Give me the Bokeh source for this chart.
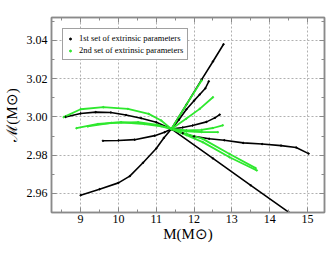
from bokeh.plotting import figure
from bokeh.models import (LinearAxis, Legend, LegendItem, SingleIntervalTicker,
                          Range1d, NumeralTickFormatter, CustomJSTickFormatter)
from bokeh.embed import file_html
from bokeh.resources import INLINE

# ---- data ----
# black: 1st set of extrinsic parameters
b1_x = [9.0, 9.5, 10.0, 10.3, 10.65, 11.0, 11.2, 11.4, 11.8, 12.2, 12.5, 12.78]
b1_y = [2.9590, 2.9622, 2.9655, 2.9690, 2.9760, 2.9835, 2.9890, 2.9937, 3.0065, 3.0195, 3.0290, 3.0380]
b2_x = [8.6, 9.0, 9.4, 9.8, 10.2, 10.6, 11.0, 11.4, 12.5, 13.5, 14.5]
b2_y = [3.0000, 3.0018, 3.0025, 3.0023, 3.0010, 2.9993, 2.9972, 2.9937, 2.9783, 2.9642, 2.9502]
b3_x = [9.59, 10.0, 10.43, 10.96, 11.22, 11.4, 11.7, 12.0, 12.4, 12.8, 13.3, 13.8, 14.3, 14.7, 15.03]
b3_y = [2.9875, 2.9877, 2.9881, 2.9902, 2.9920, 2.9937, 2.9915, 2.9898, 2.9886, 2.9878, 2.9864, 2.9858, 2.9850, 2.9840, 2.9808]
b4_x = [11.4, 11.6, 11.8, 12.0, 12.15, 12.3, 12.39]
b4_y = [2.9937, 2.9985, 3.0040, 3.0085, 3.0117, 3.0150, 3.0186]
b5_x = [11.4, 11.7, 11.96, 12.33, 12.55, 12.68]
b5_y = [2.9937, 2.9945, 2.9955, 2.9974, 2.9995, 3.0012]

# green: 2nd set of extrinsic parameters
g1_x = [8.55, 9.0, 9.6, 10.25, 10.8, 11.13, 11.4]
g1_y = [2.9999, 3.0040, 3.0051, 3.0042, 3.0016, 2.9981, 2.9937]
g2_x = [8.89, 9.46, 10.07, 10.69, 11.13, 11.4]
g2_y = [2.9941, 2.9963, 2.9972, 2.9963, 2.9951, 2.9937]
g3_x = [9.19, 9.81, 10.52, 11.04, 11.4]
g3_y = [2.9950, 2.9969, 2.9972, 2.9958, 2.9937]
r1_x = [11.4, 11.8, 12.2]
r1_y = [2.9937, 3.0065, 3.0190]
r2_x = [11.4, 11.79, 12.15, 12.5]
r2_y = [2.9937, 2.9990, 3.0042, 3.0103]
r3_x = [11.4, 11.8, 12.2, 12.5, 12.76]
r3_y = [2.9937, 2.9930, 2.9932, 2.9942, 2.9956]
r4_x = [11.4, 11.8, 12.2, 12.63]
r4_y = [2.9937, 2.9925, 2.9921, 2.9920]
r5_x = [11.4, 11.8, 12.23, 12.94, 13.66]
r5_y = [2.9937, 2.9905, 2.9868, 2.9789, 2.9720]
r6_x = [11.4, 11.8, 12.23, 12.94, 13.63]
r6_y = [2.9937, 2.9912, 2.9885, 2.9806, 2.9732]

black_xs = [b1_x, b2_x, b3_x, b4_x, b5_x]
black_ys = [b1_y, b2_y, b3_y, b4_y, b5_y]
green_xs = [g1_x, g2_x, g3_x, r1_x, r2_x, r3_x, r4_x, r5_x, r6_x]
green_ys = [g1_y, g2_y, g3_y, r1_y, r2_y, r3_y, r4_y, r5_y, r6_y]

legend_labels = ["1st set of extrinsic parameters", "2nd set of extrinsic parameters"]

BLACK = "#000000"
GREEN = "#2ee82e"
FRAME = "#8a8a8a"
SERIF = "Liberation Serif"

p = figure(frame_width=273, frame_height=195,
           x_range=Range1d(8.23, 15.45), y_range=Range1d(2.950, 3.052),
           output_backend="svg", toolbar_location=None,
           min_border_left=51, min_border_right=2,
           min_border_top=17, min_border_bottom=0)

p.background_fill_color = "white"
p.border_fill_color = "white"
p.outline_line_color = FRAME
p.outline_line_width = 1.5

p.xaxis.ticker = SingleIntervalTicker(interval=1, num_minor_ticks=2)
p.yaxis.ticker = SingleIntervalTicker(interval=0.02, num_minor_ticks=2)
p.yaxis.formatter = NumeralTickFormatter(format="0.00")

for ax in (p.xaxis[0], p.yaxis[0]):
    ax.axis_line_color = FRAME
    ax.axis_line_width = 1.5
    ax.major_tick_line_color = FRAME
    ax.minor_tick_line_color = FRAME
    ax.major_tick_in = 5
    ax.major_tick_out = 0
    ax.minor_tick_in = 3
    ax.minor_tick_out = 0
    ax.major_label_text_font = SERIF
    ax.major_label_text_font_size = "12px"
    ax.major_label_text_color = "black"
    ax.major_label_standoff = 2
    ax.axis_label_text_font = SERIF
    ax.axis_label_text_font_size = "15px"
    ax.axis_label_text_font_style = "normal"
    ax.axis_label_text_color = "black"
    ax.axis_label_standoff = 0

p.yaxis.major_label_standoff = 4
p.yaxis.axis_label_standoff = 4

p.xaxis.axis_label = "M(M\u2299)"
p.yaxis.axis_label = "\u2133(M\u2299)"

# mirrored ticks on top and right (no labels)
for loc, tick in (("above", SingleIntervalTicker(interval=1, num_minor_ticks=2)),
                  ("right", SingleIntervalTicker(interval=0.02, num_minor_ticks=2))):
    ax = LinearAxis(ticker=tick, formatter=CustomJSTickFormatter(code="return ''"))
    ax.axis_line_color = FRAME
    ax.axis_line_width = 1.5
    ax.major_tick_line_color = FRAME
    ax.minor_tick_line_color = FRAME
    ax.major_tick_in = 5
    ax.major_tick_out = 0
    ax.minor_tick_in = 3
    ax.minor_tick_out = 0
    ax.major_label_standoff = 0
    p.add_layout(ax, loc)

p.xgrid.grid_line_color = "#b0b0b0"
p.ygrid.grid_line_color = "#b0b0b0"
p.xgrid.grid_line_dash = "2 2"
p.ygrid.grid_line_dash = "2 2"
p.xgrid.grid_line_width = 1
p.ygrid.grid_line_width = 1

p.multi_line(black_xs, black_ys, line_color=BLACK, line_width=1.6)
p.multi_line(green_xs, green_ys, line_color=GREEN, line_width=1.8)

bx_all = [v for xs in black_xs for v in xs]
by_all = [v for ys in black_ys for v in ys]
gx_all = [v for xs in green_xs for v in xs]
gy_all = [v for ys in green_ys for v in ys]
sb = p.scatter(bx_all, by_all, size=1.5, color=BLACK)
sg = p.scatter(gx_all, gy_all, size=1.5, color=GREEN)

legend = Legend(items=[LegendItem(label=legend_labels[0], renderers=[sb]),
                       LegendItem(label=legend_labels[1], renderers=[sg])],
                location="top_left")
legend.margin = 11
legend.padding = 4
legend.spacing = 2
legend.glyph_width = 6
legend.glyph_height = 5
legend.label_height = 9
legend.label_standoff = 6
legend.label_text_font = SERIF
legend.label_text_font_size = "8.5px"
legend.label_text_color = "black"
legend.border_line_color = "#444444"
legend.border_line_width = 1
legend.background_fill_color = "white"
legend.background_fill_alpha = 1
p.add_layout(legend)

open("out.html", "w").write(file_html(p, INLINE))
